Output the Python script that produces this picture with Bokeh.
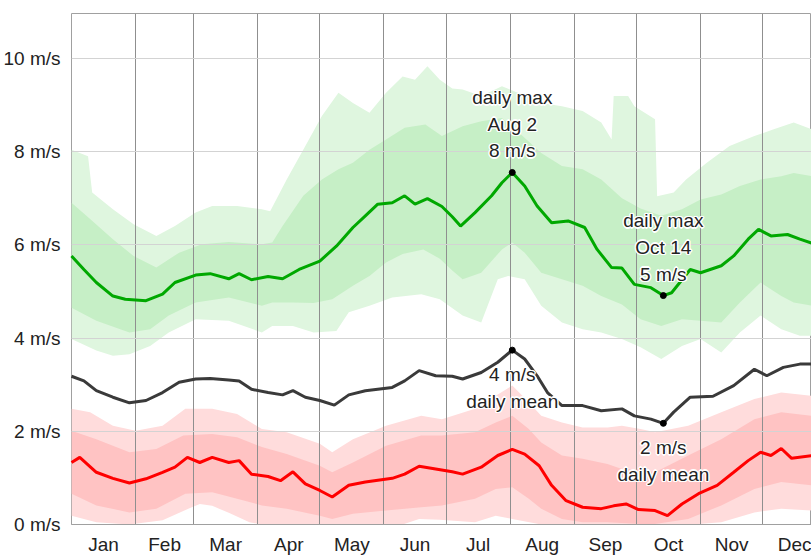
from bokeh.plotting import figure
from bokeh.models import Range1d, FixedTicker, PrintfTickFormatter, CustomJSTickFormatter
from bokeh.embed import file_html
from bokeh.resources import INLINE
from bokeh.core.properties import value

# ---------------- data ----------------
month_names = ["Jan", "Feb", "Mar", "Apr", "May", "Jun", "Jul", "Aug", "Sep", "Oct", "Nov", "Dec"]
month_start = [0, 31, 59, 90, 120, 151, 181, 212, 243, 273, 304, 334, 365]
y_ticks = [0, 2, 4, 6, 8, 10]

# average daily max wind speed (green line)
max_days = [0, 6, 12, 20, 26, 36, 44, 50, 60, 67, 76, 81, 87, 95, 102, 110, 120, 128, 136, 142, 148, 155,
            161, 166, 172, 179, 184, 188, 195, 203, 208, 213, 219, 225, 232, 240, 248, 254, 261, 266, 272,
            280, 286, 290, 299, 304, 314, 320, 327, 332, 338, 346, 352, 358]
max_vals = [5.76, 5.47, 5.19, 4.90, 4.83, 4.80, 4.94, 5.19, 5.35, 5.38, 5.27, 5.38, 5.25, 5.32, 5.27, 5.47,
            5.65, 5.97, 6.37, 6.62, 6.87, 6.90, 7.05, 6.87, 6.99, 6.82, 6.60, 6.40, 6.69, 7.05, 7.33, 7.55,
            7.26, 6.83, 6.47, 6.51, 6.37, 5.90, 5.51, 5.50, 5.15, 5.08, 4.91, 4.97, 5.47, 5.40, 5.55, 5.76,
            6.12, 6.33, 6.19, 6.22, 6.12, 6.03]

# daily mean wind speed (black line)
mean_days = [0, 6, 12, 20, 28, 36, 44, 52, 60, 67, 76, 81, 87, 95, 102, 107, 113, 120, 127, 134, 142, 155,
             161, 168, 176, 184, 189, 198, 206, 213, 219, 225, 230, 237, 247, 256, 266, 272, 280, 286, 291,
             299, 310, 320, 330, 336, 344, 352, 358]
mean_vals = [3.18, 3.08, 2.87, 2.73, 2.61, 2.66, 2.83, 3.05, 3.12, 3.13, 3.10, 3.08, 2.90, 2.83, 2.78, 2.87,
             2.73, 2.66, 2.56, 2.78, 2.87, 2.94, 3.08, 3.30, 3.19, 3.18, 3.12, 3.26, 3.48, 3.74, 3.55, 3.19,
             2.83, 2.55, 2.55, 2.44, 2.48, 2.33, 2.26, 2.17, 2.41, 2.73, 2.75, 2.98, 3.33, 3.19, 3.37, 3.44,
             3.44]

# average daily min wind speed (red line)
min_days = [0, 4, 12, 20, 28, 36, 44, 50, 56, 62, 68, 76, 81, 87, 95, 101, 107, 113, 120, 126, 134, 142,
            155, 161, 168, 176, 184, 189, 198, 206, 213, 219, 226, 232, 239, 247, 256, 262, 268, 274, 282,
            288, 295, 303, 312, 320, 327, 333, 338, 343, 348, 358]
min_vals = [1.33, 1.44, 1.12, 0.99, 0.89, 0.98, 1.12, 1.23, 1.44, 1.33, 1.44, 1.33, 1.37, 1.08, 1.03, 0.94,
            1.13, 0.87, 0.73, 0.59, 0.84, 0.91, 0.99, 1.08, 1.25, 1.19, 1.13, 1.08, 1.23, 1.48, 1.61, 1.51,
            1.26, 0.84, 0.51, 0.37, 0.34, 0.40, 0.44, 0.32, 0.30, 0.19, 0.44, 0.66, 0.84, 1.12, 1.37, 1.55,
            1.48, 1.63, 1.42, 1.48]

# daily max percentile bands (10-90 outer, 25-75 inner)
gmax_p90_days = [0, 8, 10, 20, 30, 41, 50, 60, 68, 80, 92, 96, 104, 113, 121, 129, 136, 144, 152, 160, 166,
                 172, 178, 184, 189, 198, 208, 218, 227, 237, 247, 256, 261, 262, 269, 272, 282, 283, 291,
                 297, 307, 318, 330, 339, 349, 358]
gmax_p90_vals = [8.04, 7.90, 7.12, 6.76, 6.44, 6.19, 6.40, 6.69, 6.83, 6.83, 6.76, 6.72, 7.40, 8.12, 8.76,
                 9.26, 9.04, 8.83, 9.26, 9.61, 9.54, 9.83, 9.54, 9.35, 9.33, 9.19, 9.40, 9.22, 9.04, 8.97,
                 8.87, 8.62, 8.26, 9.19, 9.19, 8.97, 8.69, 7.04, 7.12, 7.40, 7.76, 8.12, 8.33, 8.47, 8.62,
                 8.47]
gmax_p75_days = [0, 9, 20, 30, 41, 52, 63, 76, 92, 97, 102, 112, 121, 129, 136, 144, 152, 161, 171, 179,
                 189, 198, 208, 218, 227, 237, 247, 256, 266, 275, 285, 295, 304, 314, 323, 333, 343, 349,
                 358]
gmax_p75_vals = [6.90, 6.55, 6.12, 5.76, 5.51, 5.83, 6.01, 6.06, 6.01, 6.05, 6.40, 7.05, 7.40, 7.62, 7.76,
                 8.04, 8.26, 8.51, 8.58, 8.33, 8.54, 8.65, 8.72, 8.33, 7.97, 7.69, 7.62, 7.40, 7.00, 6.78,
                 6.62, 6.76, 6.97, 7.08, 7.26, 7.40, 7.47, 7.54, 7.47]
gmax_p25_days = [0, 12, 28, 38, 47, 60, 76, 92, 97, 107, 117, 126, 136, 144, 152, 160, 170, 178, 184, 189,
                 198, 208, 213, 219, 227, 237, 247, 256, 266, 275, 285, 295, 304, 314, 323, 333, 343, 349,
                 358]
gmax_p25_vals = [4.65, 4.37, 4.12, 4.19, 4.48, 4.76, 4.87, 4.69, 4.76, 4.76, 4.75, 4.83, 5.12, 5.33, 5.62,
                 5.80, 5.90, 5.70, 5.45, 5.26, 5.40, 5.90, 6.05, 5.83, 5.40, 5.26, 5.12, 4.90, 4.72, 4.40,
                 4.26, 4.40, 4.37, 4.33, 4.76, 5.19, 4.90, 4.76, 4.69]
gmax_p10_days = [0, 12, 20, 28, 38, 47, 60, 76, 92, 97, 107, 117, 128, 134, 144, 155, 169, 178, 189, 198,
                 206, 211, 219, 227, 237, 247, 256, 266, 275, 285, 295, 304, 314, 323, 333, 343, 352, 358]
gmax_p10_vals = [3.98, 3.73, 3.62, 3.65, 3.83, 4.12, 4.40, 4.37, 4.12, 4.26, 4.26, 4.12, 4.15, 4.55, 4.69,
                 4.87, 4.94, 4.83, 4.48, 4.33, 5.26, 5.33, 5.26, 4.69, 4.33, 4.19, 4.12, 3.98, 3.80, 3.55,
                 3.83, 3.98, 3.69, 4.12, 4.48, 4.19, 4.05, 4.05]

# daily min percentile bands
gmin_p90_days = [0, 9, 20, 31, 44, 55, 68, 80, 92, 104, 120, 126, 136, 152, 169, 179, 195, 205, 213, 221,
                 227, 237, 247, 259, 266, 275, 282, 298, 314, 330, 343, 358]
gmin_p90_vals = [2.48, 2.41, 2.12, 2.01, 2.12, 2.48, 2.48, 2.37, 2.05, 1.98, 1.73, 1.55, 1.83, 2.12, 2.33,
                 2.26, 2.48, 2.76, 2.98, 2.62, 2.33, 2.19, 2.08, 2.08, 2.12, 2.05, 1.98, 2.12, 2.41, 2.69,
                 2.83, 2.76]
gmin_p75_days = [0, 12, 28, 41, 54, 68, 80, 92, 104, 120, 126, 136, 152, 169, 179, 195, 205, 213, 221, 227,
                 237, 247, 259, 266, 275, 282, 298, 314, 330, 343, 358]
gmin_p75_vals = [2.01, 1.83, 1.55, 1.62, 1.91, 1.94, 1.87, 1.66, 1.51, 1.26, 1.12, 1.33, 1.69, 1.91, 1.91,
                 1.98, 2.19, 2.33, 2.05, 1.76, 1.48, 1.41, 1.30, 1.19, 1.19, 1.12, 1.48, 1.83, 2.26, 2.41,
                 2.33]
gmin_p25_days = [0, 12, 28, 41, 55, 68, 80, 92, 104, 120, 126, 136, 152, 169, 179, 195, 205, 213, 221, 227,
                 237, 247, 259, 275, 282, 298, 314, 330, 343, 358]
gmin_p25_vals = [0.66, 0.41, 0.26, 0.34, 0.66, 0.69, 0.55, 0.41, 0.34, 0.19, 0.12, 0.23, 0.30, 0.37, 0.41,
                 0.55, 0.76, 0.80, 0.55, 0.34, 0.12, 0.05, 0.05, 0.01, 0.01, 0.12, 0.41, 0.76, 0.91, 0.84]
gmin_p10_days = [0, 12, 28, 44, 57, 62, 68, 76, 86, 92, 160, 168, 178, 195, 205, 213, 227, 300, 314, 330,
                 343, 358]
gmin_p10_vals = [0.19, 0.05, 0.00, 0.09, 0.35, 0.44, 0.40, 0.25, 0.05, 0.00, 0.00, 0.12, 0.10, 0.05, 0.19,
                 0.12, 0.00, 0.00, 0.05, 0.26, 0.34, 0.30]

# highlighted days (Aug 2, Oct 14)
hi_day = 213
lo_day = 286
hi_label = "Aug 2"
lo_label = "Oct 14"

# ---------------- figure ----------------
FONT = "Liberation Sans"
p = figure(width=811, height=557, output_backend="svg", toolbar_location=None,
           x_range=Range1d(0, 357.6), y_range=Range1d(0, 10.96),
           min_border_left=68, min_border_right=0, min_border_top=13, min_border_bottom=30)
p.background_fill_color = "white"
p.border_fill_color = "white"
p.outline_line_color = "#a0a0a0"
p.outline_line_width = 1


def band(lo_d, lo_v, hi_d, hi_v, color):
    xs = list(lo_d) + list(hi_d)[::-1]
    ys = list(lo_v) + list(hi_v)[::-1]
    p.patch(xs, ys, fill_color=color, line_color=None, level="underlay")


band(gmax_p10_days, gmax_p10_vals, gmax_p90_days, gmax_p90_vals, "#dff6df")
band(gmax_p25_days, gmax_p25_vals, gmax_p75_days, gmax_p75_vals, "#c6efc6")
band(gmin_p10_days, gmin_p10_vals, gmin_p90_days, gmin_p90_vals, "#ffdcdc")
band(gmin_p25_days, gmin_p25_vals, gmin_p75_days, gmin_p75_vals, "#ffc3c3")

p.line(max_days, max_vals, line_color="#00a800", line_width=3, level="annotation")
p.line(mean_days, mean_vals, line_color="#3a3a3a", line_width=3, level="annotation")
p.line(min_days, min_vals, line_color="#ff0000", line_width=3, level="annotation")

max_lookup = dict(zip(max_days, max_vals))
mean_lookup = dict(zip(mean_days, mean_vals))
pts_x = [hi_day, lo_day, hi_day, lo_day]
pts_y = [max_lookup[hi_day], max_lookup[lo_day], mean_lookup[hi_day], mean_lookup[lo_day]]
p.scatter(pts_x, pts_y, size=6, color="black", level="annotation")

offsets = [(-1.5, 0), (1.5, 0), (0, -1.5), (0, 1.5), (-1, -1), (1, 1), (-1, 1), (1, -1)]


def halo_text(x, y, txt, baseline, yoff):
    for dx, dy in offsets:
        p.text(x=[x], y=[y], text=[txt], x_offset=dx, y_offset=yoff + dy, text_color="white",
               text_align="center", text_baseline=baseline, text_font=value(FONT),
               text_font_size="19px", text_line_height=1.27, level="annotation")
    p.text(x=[x], y=[y], text=[txt], x_offset=0, y_offset=yoff, text_color="#222222",
           text_align="center", text_baseline=baseline, text_font=value(FONT),
           text_font_size="19px", text_line_height=1.27, level="annotation")


halo_text(hi_day, max_lookup[hi_day], f"daily max\n{hi_label}\n{round(max_lookup[hi_day])} m/s", "bottom", -11)
halo_text(lo_day, max_lookup[lo_day], f"daily max\n{lo_label}\n{round(max_lookup[lo_day])} m/s", "bottom", -11)
halo_text(hi_day, mean_lookup[hi_day], f"{round(mean_lookup[hi_day])} m/s\ndaily mean", "top", 14)
halo_text(lo_day, mean_lookup[lo_day], f"{round(mean_lookup[lo_day])} m/s\ndaily mean", "top", 14)

# axes
p.yaxis.ticker = FixedTicker(ticks=y_ticks)
p.yaxis.formatter = PrintfTickFormatter(format="%d m/s")
p.yaxis.major_label_text_font = FONT
p.yaxis.major_label_text_font_size = "19px"
p.yaxis.major_label_text_color = "#222222"
p.yaxis.major_label_standoff = 5
p.yaxis.axis_line_color = None
p.yaxis.major_tick_line_color = None
p.yaxis.minor_tick_line_color = None

mids = [(month_start[i] + month_start[i + 1]) / 2 for i in range(12)]
p.xaxis.ticker = FixedTicker(ticks=mids)
p.xaxis.formatter = CustomJSTickFormatter(args=dict(starts=month_start, names=month_names), code="""
for (let i = 0; i < names.length; i++) {
  if (tick > starts[i] && tick < starts[i + 1]) { return names[i]; }
}
return "";
""")
p.xaxis.major_label_text_font = FONT
p.xaxis.major_label_text_font_size = "19px"
p.xaxis.major_label_text_color = "#222222"
p.xaxis.major_label_standoff = 3
p.xaxis.axis_line_color = "#a0a0a0"
p.xaxis.major_tick_line_color = None
p.xaxis.minor_tick_line_color = None

p.xgrid.ticker = FixedTicker(ticks=month_start[1:12])
p.xgrid.grid_line_color = "#8f8f8f"
p.xgrid.level = "glyph"
p.ygrid.ticker = FixedTicker(ticks=y_ticks)
p.ygrid.grid_line_color = "#d3d3d3"
p.ygrid.level = "glyph"

open("out.html", "w").write(file_html(p, INLINE))
